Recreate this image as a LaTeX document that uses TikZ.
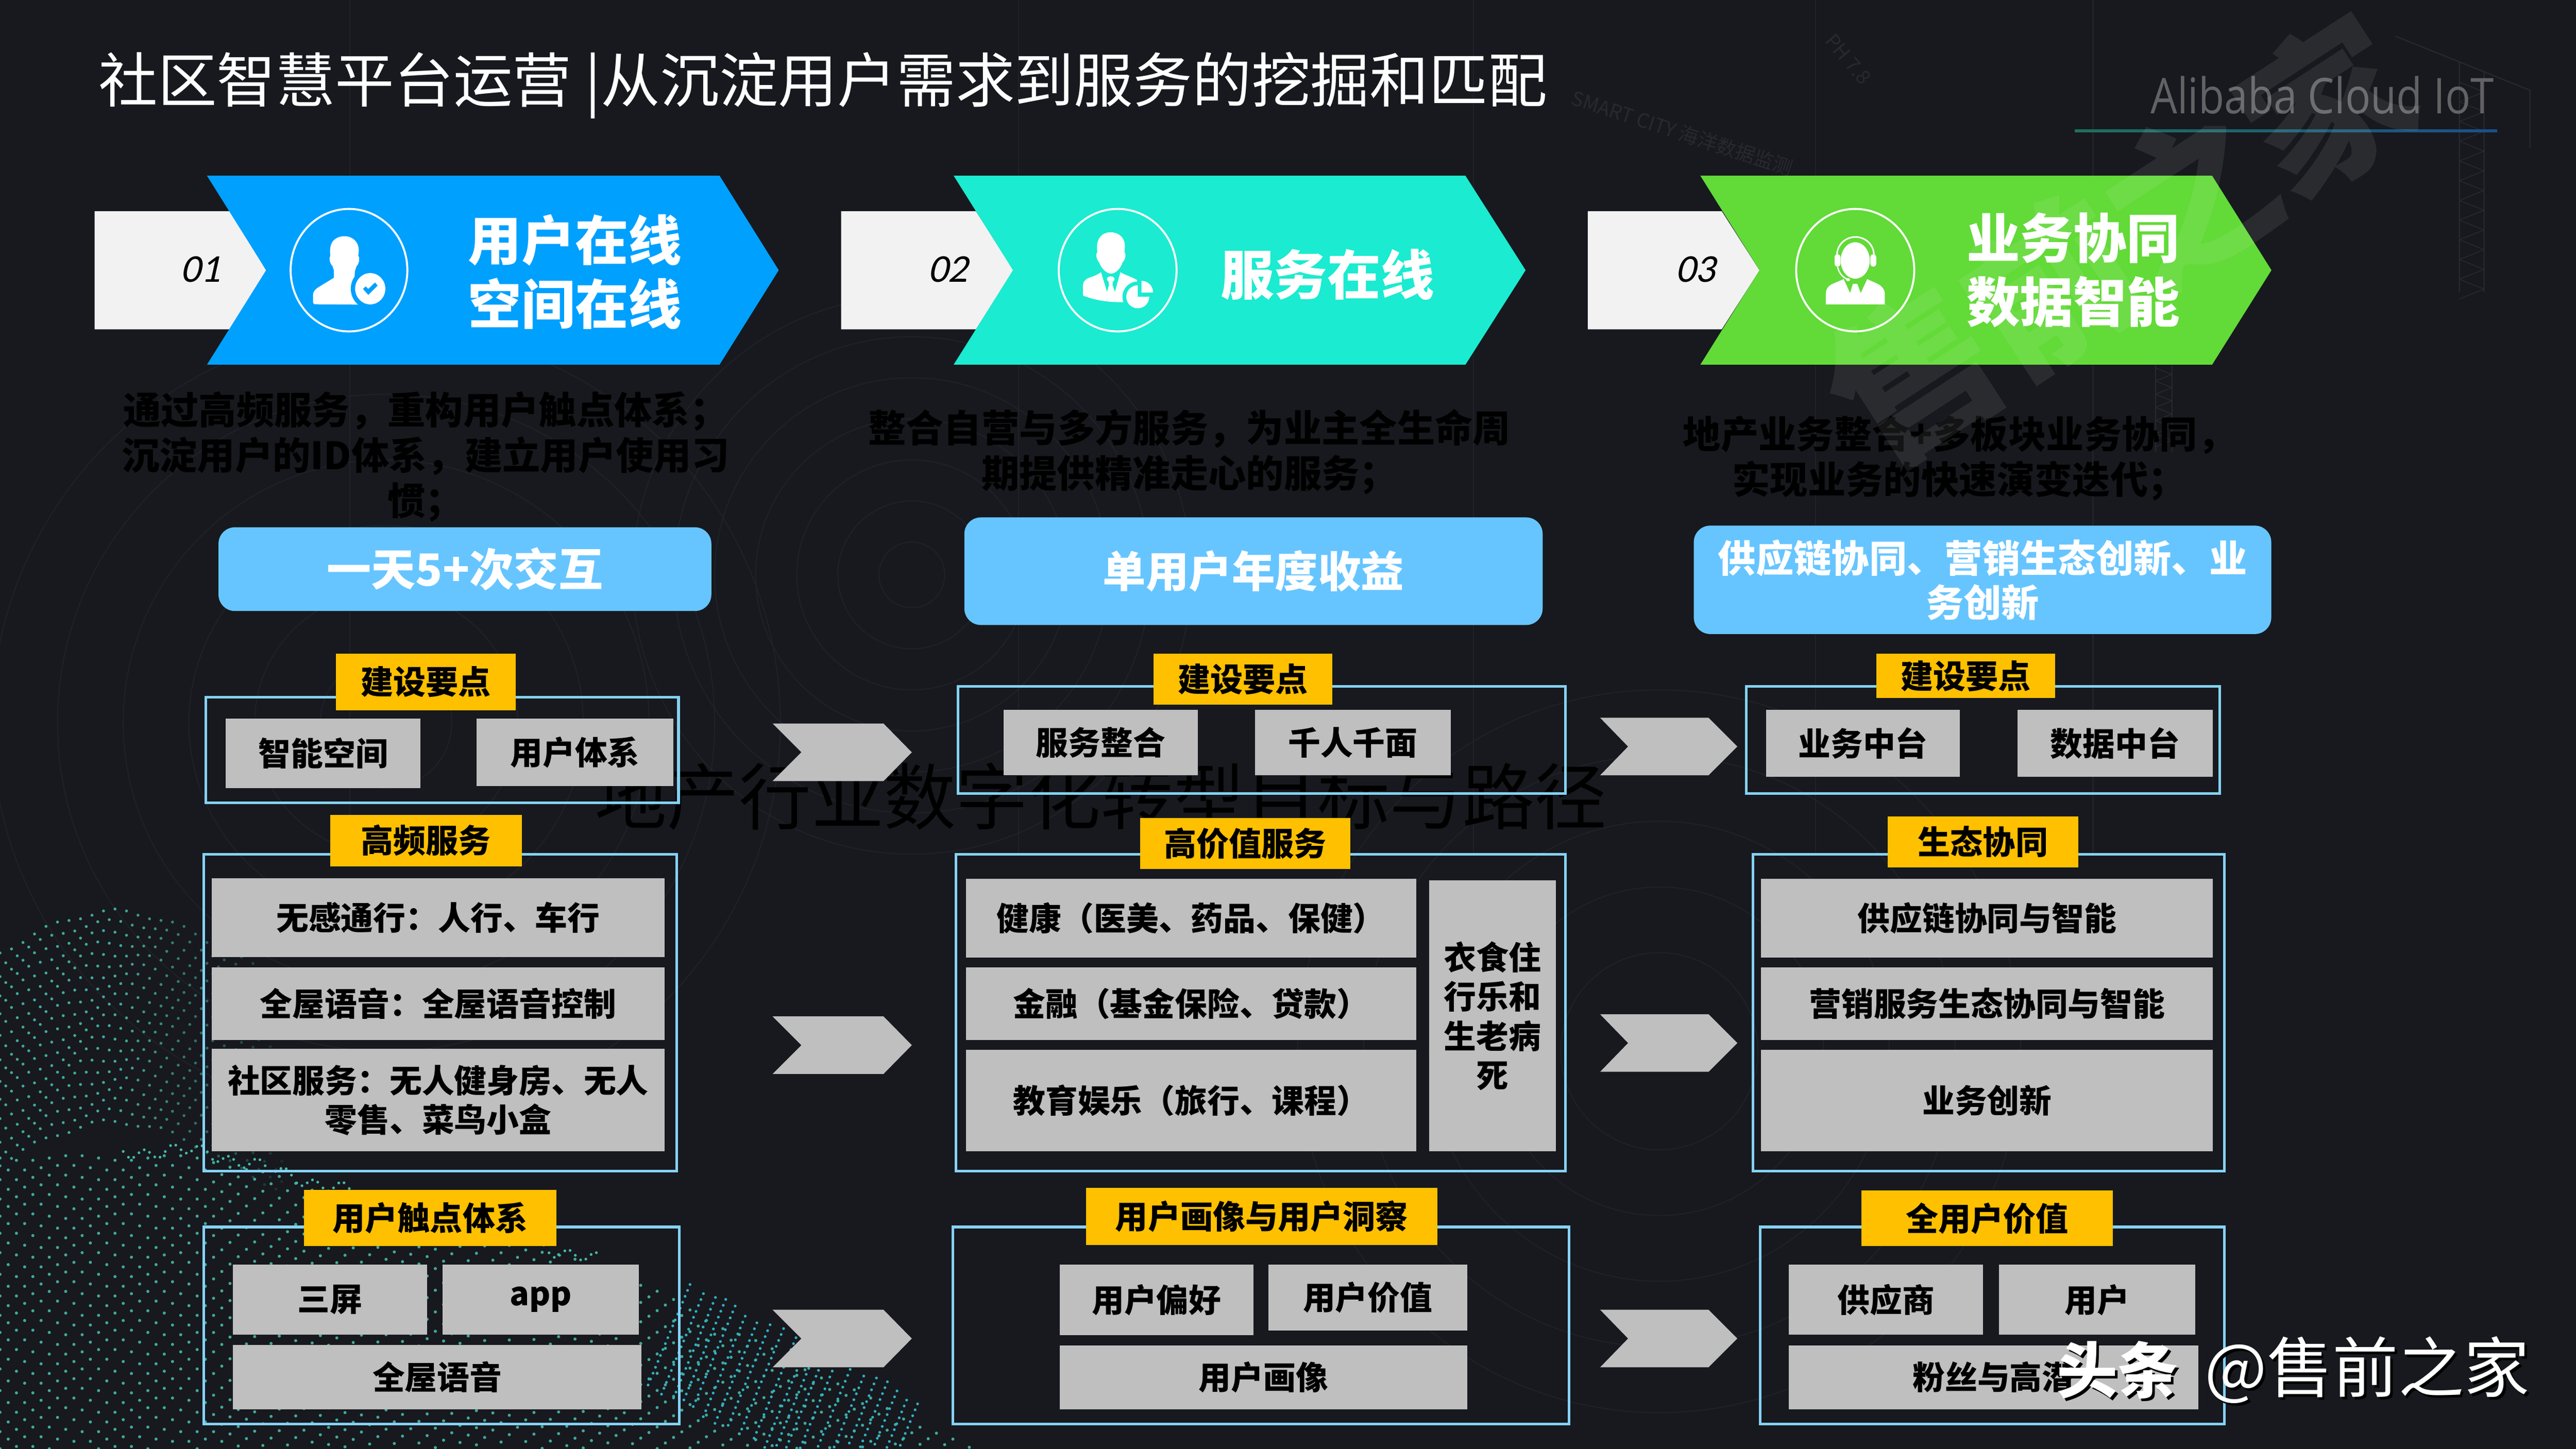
\documentclass[tikz,border=0pt]{standalone}
\usepackage{fontspec}
\setmainfont{Noto Sans CJK SC}
\newfontfamily\numfont[FakeSlant=.22]{Carlito}
\newfontfamily\latinfont{Open Sans}
\definecolor{bgc}{HTML}{17191E}
\definecolor{frm}{HTML}{85D2F8}
\definecolor{gry}{HTML}{BFBFBF}
\definecolor{tagc}{HTML}{FFC000}
\definecolor{pillc}{HTML}{66C5FF}
\definecolor{bluec}{HTML}{00A0FF}
\definecolor{tealc}{HTML}{1BEBD0}
\definecolor{greenc}{HTML}{62DA38}
\definecolor{pale}{HTML}{F2F2F2}
\definecolor{faint}{HTML}{202227}
\definecolor{faint2}{HTML}{27292E}
\definecolor{dotc}{HTML}{45B8A8}
\definecolor{dotd}{HTML}{2FB0C4}
\definecolor{logoc}{HTML}{626265}
\definecolor{lineA}{HTML}{1F6F5C}
\definecolor{lineB}{HTML}{1A4F8A}
\newcommand{\fsz}[1]{\fontsize{#1}{#1}\selectfont}
\newcommand{\fszl}[2]{\fontsize{#1}{#2}\selectfont}
\tikzset{
  base/.style={inner sep=0pt,outer sep=0pt,align=center},
  framebox/.style={base,draw=frm,line width=1.6pt},
  graybox/.style={base,fill=gry,text=black,font=\fszl{19.7}{24}\bfseries},
  tagbox/.style={base,fill=tagc,text=black,font=\fsz{19.8}\bfseries},
  pillbox/.style={base,fill=pillc,text=white,rounded corners=10pt},
  numbox/.style={fill=pale},
  arrowshape/.style={fill=gry},
  desc/.style={base,text=black,font=\fszl{23}{27.5}\bfseries},
  head/.style={base,text=white,font=\fszl{32.5}{39}\bfseries},
  num/.style={base,text=black,font=\numfont\fsz{24}},
  ring/.style={draw=white,line width=1.2pt},
  ico/.style={fill=white,draw=none},
  iconscope/.style={x=.06806pt,y=-.06806pt}
}
% style, name, x1, y1, x2, y2, text
\newcommand{\bx}[7]{%
  \pgfmathsetmacro\cxx{(#3+#5)/2}%
  \pgfmathsetmacro\cyy{(#4+#6)/2}%
  \pgfmathsetmacro\wdd{#5-#3}%
  \pgfmathsetmacro\htt{#6-#4}%
  \node[#1,minimum width=\wdd pt,minimum height=\htt pt] (#2) at (\cxx,\cyy) {#7};}
% chevron: left, notch, righttop, tip, top, bottom, colour style
\newcommand{\chev}[7]{%
  \pgfmathsetmacro\cyy{(#5+#6)/2}%
  \fill[#7] (#1,#5) -- (#3,#5) -- (#4,\cyy) -- (#3,#6) -- (#1,#6) -- (#2,\cyy) -- cycle;}
\newcommand{\numtab}[3]{%
  \fill[numbox] (#1,128.6) -- (#2,128.6) -- (#3,164.6) -- (#2,200.5) -- (#1,200.5) -- cycle;}
\begin{document}
\begin{tikzpicture}[x=1pt,y=-1pt]
\useasboundingbox (0,0) rectangle (1568,882);
\fill[bgc] (0,0) rectangle (1568,882);
% faint background decoration
\foreach \r in {20,45,...,170} \draw[faint,line width=.6pt] (555,350) circle[radius=\r];
\foreach \r in {40,80,...,240} \draw[faint,line width=.6pt] (235,440) circle[radius=\r];
\foreach \r in {60,100,...,220} \draw[faint,line width=.6pt] (1010,640) circle[radius=\r];
\foreach \xx in {213,620,897,1105,1274} \draw[faint,line width=.7pt] (\xx,0) -- (\xx,520);
% lattice towers
\draw[faint2,line width=.7pt] (1458,22) -- (1540,55) -- (1540,90) (1497,38) -- (1497,178) (1512,44) -- (1512,178);
\foreach \yy in {50,62,...,170} \draw[faint2,line width=.5pt] (1497,\yy) -- (1512,\yy+6) -- (1497,\yy+12);
\draw[faint2,line width=.7pt] (1312,222) -- (1312,275) (1322,222) -- (1322,275);
\foreach \yy in {224,232,...,264} \draw[faint2,line width=.5pt] (1312,\yy) -- (1322,\yy+4) -- (1312,\yy+8);
\node[base,text=faint2,font=\fsz{12},rotate=-18] (city) at (1024,81) {SMART CITY 海洋数据监测};
\node[base,text=faint2,font=\fsz{12},rotate=-50] (ph) at (1125,36) {PH 7.8};
% dotted wave: back hump
\foreach \c in {0,...,24}{
  \foreach \rw in {0,...,20}{
    \pgfmathsetmacro\xa{\c*7+3.5*mod(\rw,2)}
    \pgfmathsetmacro\ya{620-65*exp(-((\xa-70)/100)^2)+\rw*6.4+1.6*sin(\xa*9+\rw*40)}
    \pgfmathsetmacro\op{max(0,min(.9,1.45-\xa/130))}
    \fill[dotc,opacity=\op] (\xa,\ya) circle[radius=.9];
  }
}
% dotted wave: front body
\foreach \c in {0,...,60}{
  \foreach \rw in {0,...,30}{
    \pgfmathsetmacro\xb{\c*10+5*mod(\rw,2)}
    \pgfmathsetmacro\yb{705+.28*max(0,\xb-125)+.22*max(0,\xb-375)+\rw*5.9+1.6*sin(\xb*6+\rw*30)}
    \pgfmathtruncatemacro\vis{\yb<882?1:0}
    \ifnum\vis=1
      \fill[dotc,opacity=.9] (\xb,\yb) circle[radius=.95];
    \fi
  }
}
% dense ridge of the wave
\foreach \c in {0,...,90}{
  \pgfmathsetmacro\xr{75+\c*3.2}
  \pgfmathsetmacro\yr{701+.28*max(0,\xr-125)+3*sin(\c*67)+2*sin(\c*23)}
  \fill[dotc] (\xr,\yr) circle[radius=.85];
}
% dense stripes at the right end of the wave
\foreach \c in {0,...,20}{
  \foreach \t in {0,...,17}{
    \pgfmathsetmacro\xs{420+\c*7-\t*1.5+1.5*sin(\c*50)}
    \pgfmathsetmacro\ys{782+\c*3.6+\t*3.6+2*sin(\c*80)}
    \pgfmathtruncatemacro\vis{\ys<882?1:0}
    \ifnum\vis=1
      \fill[dotd] (\xs,\ys) circle[radius=.85];
    \fi
  }
}
% dark subtitle behind the panels
\node[base,text=black,font=\fsz{44},anchor=center] (sub) at (670,485) {地产行业数字化转型目标与路径};
% title and logo
\node[base,text=white,font=\fsz{36},anchor=west] (title) at (60,52) {社区智慧平台运营 |从沉淀用户需求到服务的挖掘和匹配};
\node[base,text=logoc,font=\latinfont\fsz{30},anchor=east,xscale=.855] (logo) at (1518,58) {Alibaba Cloud IoT};
\shade[left color=lineA,right color=lineB] (1263,78.8) rectangle (1520,80.4);
% number tabs
\numtab{57.6}{140}{162}
\numtab{512}{594}{617}
\numtab{966.5}{1048}{1071}
% banners
\chev{126}{162}{438}{474}{107}{222}{bluec}
\chev{580.5}{616.6}{892}{928.6}{107}{222}{tealc}
\chev{1035}{1071}{1346.5}{1382.6}{107}{222}{greenc}
\node[num] (n1) at (122,164) {01};
\node[num] (n2) at (577,164) {02};
\node[num] (n3) at (1032,164) {03};
% icon 1
\begin{scope}[shift={(173.5,122.5)},iconscope]
  \draw[ring] (572,617) ellipse[x radius=522,y radius=548];
  \fill[ico] (530,313) .. controls (610,313) and (660,370) .. (660,440) -- (655,490)
    .. controls (670,500) and (665,560) .. (640,580) -- (625,625) -- (622,680) -- (660,925)
    -- (270,922) .. controls (255,922) and (250,910) .. (250,895) -- (250,840)
    .. controls (250,810) and (270,790) .. (290,775) -- (437,685) -- (437,620) -- (425,580)
    .. controls (400,560) and (392,510) .. (405,490) .. controls (400,440) and (400,380) .. (440,345)
    .. controls (470,320) and (500,313) .. (530,313) -- cycle;
  \fill[bluec] (762,783) ellipse[x radius=174,y radius=182];
  \fill[ico] (762,783) ellipse[x radius=135,y radius=140];
  \fill[bluec] (697,785) -- (722,762) -- (745,785) -- (805,727) -- (828,755) -- (745,838) -- cycle;
\end{scope}
% icon 2
\begin{scope}[shift={(639,122.5)},iconscope]
  \draw[ring] (607,617) ellipse[x radius=527,y radius=548];
  \fill[ico] (298,845) -- (296,760) .. controls (296,720) and (320,695) .. (350,685)
    .. controls (400,670) and (430,655) .. (458,635) -- (632,635)
    .. controls (670,660) and (730,675) .. (780,705) -- (800,895)
    .. controls (600,915) and (440,900) .. (298,845) -- cycle;
  \fill[tealc] (458,633) -- (512,810) -- (530,745) -- (560,745) -- (582,810) -- (632,633) -- cycle;
  \fill[ico] (545,697) ellipse[x radius=34,y radius=25];
  \fill[ico] (525,715) -- (565,715) -- (560,750) -- (530,750) -- cycle;
  \fill[ico] (545,278) .. controls (620,278) and (672,330) .. (672,400) -- (668,455)
    .. controls (682,470) and (680,520) .. (652,545) .. controls (635,600) and (590,648) .. (548,648)
    .. controls (505,648) and (460,600) .. (440,545) .. controls (415,520) and (410,470) .. (425,455)
    .. controls (418,400) and (420,340) .. (470,300) .. controls (495,283) and (520,278) .. (545,278) -- cycle;
  \fill[tealc] (787,855) circle[radius=137];
  \fill[ico] (787,855) -- (787,752) arc[start angle=270,end angle=0,radius=103] -- cycle;
  \fill[ico] (820,818) -- (820,712) arc[start angle=-90,end angle=0,radius=104] -- cycle;
\end{scope}
% icon 3
\begin{scope}[shift={(1092.3,122.5)},iconscope]
  \draw[ring] (543,617) ellipse[x radius=528,y radius=548];
  \fill[ico] (543,530) ellipse[x radius=130,y radius=163];
  \draw[white,line width=.95pt] (380,480) arc[start angle=180,end angle=360,x radius=165,y radius=160];
  \fill[ico,rounded corners=1.6pt] (358,475) rectangle (411,585);
  \fill[ico,rounded corners=1.6pt] (678,475) rectangle (731,585);
  \draw[white,line width=.8pt] (385,585) .. controls (395,640) and (430,680) .. (475,700);
  \fill[ico] (479,702) ellipse[x radius=18,y radius=14];
  \fill[ico] (280,923) -- (280,830) .. controls (280,780) and (310,750) .. (350,735) -- (440,697)
    -- (497,822) -- (522,740) -- (562,740) -- (592,822) -- (650,697) -- (735,735)
    .. controls (780,755) and (808,790) .. (808,830) -- (808,923) -- cycle;
\end{scope}
% banner headings
\node[head] (h1) at (350,165.5) {用户在线\\空间在线};
\node[head] (h2) at (808,167) {服务在线};
\node[head] (h3) at (1262,164.5) {业务协同\\数据智能};
% descriptions
\node[desc] (d1) at (259,278) {通过高频服务，重构用户触点体系；\\沉淀用户的ID体系，建立用户使用习\\惯；};
\node[desc] (d2) at (724,275) {整合自营与多方服务，为业主全生命周\\期提供精准走心的服务；};
\node[desc] (d3) at (1192.5,279) {地产业务整合+多板块业务协同，\\实现业务的快速演变迭代；};
% pills
\bx{pillbox,font=\fsz{27}\bfseries}{p1}{133}{321}{433}{372}{一天5+次交互}
\bx{pillbox,font=\fsz{26.2}\bfseries}{p2}{587}{315}{939}{380.5}{单用户年度收益}
\bx{pillbox,font=\fszl{23}{27}\bfseries}{p3}{1031}{320}{1382.5}{386}{供应链协同、营销生态创新、业\\务创新}
% frames
\bx{framebox}{f11}{125.4}{424.5}{413}{488.7}{}
\bx{framebox}{f12}{124}{520}{412}{713}{}
\bx{framebox}{f13}{124}{747}{413.5}{867}{}
\bx{framebox}{f21}{583}{418}{953}{483}{}
\bx{framebox}{f22}{582}{520}{953}{713}{}
\bx{framebox}{f23}{580}{747}{955}{867}{}
\bx{framebox}{f31}{1063}{418}{1351}{483}{}
\bx{framebox}{f32}{1067}{520}{1354}{713}{}
\bx{framebox}{f33}{1071.4}{747}{1354}{867}{}
% tags
\bx{tagbox}{t11}{204.5}{398}{314}{432.3}{建设要点}
\bx{tagbox}{t12}{201}{496}{317.6}{527.5}{高频服务}
\bx{tagbox}{t13}{185}{724.3}{338.7}{758.7}{用户触点体系}
\bx{tagbox}{t21}{702}{398}{811}{429}{建设要点}
\bx{tagbox}{t22}{694}{498}{822}{529}{高价值服务}
\bx{tagbox}{t23}{661}{723}{875}{758}{用户画像与用户洞察}
\bx{tagbox}{t31}{1142}{398}{1251}{425}{建设要点}
\bx{tagbox}{t32}{1149}{497}{1265}{528}{生态协同}
\bx{tagbox}{t33}{1133}{724.7}{1286}{758.7}{全用户价值}
% column 1 boxes
\bx{graybox}{a1}{137.5}{437.4}{256}{479.9}{智能空间}
\bx{graybox}{a2}{290}{437.4}{410}{478.6}{用户体系}
\bx{graybox}{a3}{129}{534.7}{404.4}{582.6}{无感通行：人行、车行}
\bx{graybox}{a4}{129}{589}{404.4}{633}{全屋语音：全屋语音控制}
\bx{graybox}{a5}{129}{638.6}{404.4}{701}{社区服务：无人健身房、无人\\零售、菜鸟小盒}
\bx{graybox}{a6}{141.8}{770}{260}{812.5}{三屏}
\bx{graybox}{a7}{269.4}{770}{389}{812.5}{\raisebox{-4pt}{app}}
\bx{graybox}{a8}{141.8}{818.8}{390.5}{858}{全屋语音}
% column 2 boxes
\bx{graybox}{b1}{611}{432}{729}{472}{服务整合}
\bx{graybox}{b2}{764}{432}{883}{472}{千人千面}
\bx{graybox}{b3}{588}{535}{862}{583}{健康（医美、药品、保健）}
\bx{graybox}{b4}{588}{589}{862}{633}{金融（基金保险、贷款）}
\bx{graybox}{b5}{588}{639}{862}{701}{教育娱乐（旅行、课程）}
\bx{graybox}{b6}{870}{536}{947}{701}{衣食住\\行乐和\\生老病\\死}
\bx{graybox}{b7}{645}{770}{763}{813}{用户偏好}
\bx{graybox}{b8}{772}{770}{893}{810}{用户价值}
\bx{graybox}{b9}{645}{819}{893}{858}{用户画像}
% column 3 boxes
\bx{graybox}{c1}{1075}{432}{1193}{473}{业务中台}
\bx{graybox}{c2}{1228}{432}{1347}{473}{数据中台}
\bx{graybox}{c3}{1072}{535}{1347}{583}{供应链协同与智能}
\bx{graybox}{c4}{1072}{589}{1347}{633}{营销服务生态协同与智能}
\bx{graybox}{c5}{1072}{639}{1347}{701}{业务创新}
\bx{graybox}{c6}{1088.9}{770}{1207}{812.6}{供应商}
\bx{graybox}{c7}{1216.6}{770}{1336.3}{812.6}{用户}
\bx{graybox}{c8}{1088.9}{819}{1338}{858}{粉丝与高潜}
% chevron arrows
\chev{470.3}{487.8}{537.8}{555}{440.5}{475.5}{arrowshape}
\chev{470.3}{487.8}{537.8}{555}{618.8}{653.8}{arrowshape}
\chev{470.3}{487.8}{537.8}{555}{797.4}{832.4}{arrowshape}
\chev{974}{991}{1040}{1057.5}{437}{472}{arrowshape}
\chev{974}{991}{1040}{1057.5}{617.5}{652.5}{arrowshape}
\chev{974}{991}{1040}{1057.5}{797.4}{832.4}{arrowshape}
% large diagonal watermark
\node[base,text=white,opacity=.08,font=\fsz{100}\bfseries,rotate=33] (bigmark) at (1290,146) {售前之家};
% corner watermark
\node[base,text=black,font=\fsz{37}\bfseries,anchor=center] (tts) at (1290.5,835.5) {头条};
\node[base,text=white,font=\fsz{37}\bfseries,anchor=center] (tt) at (1289,834) {头条};
\node[base,text=black,font=\fsz{40},anchor=west] (ats) at (1343.5,835.5) {@售前之家};
\node[base,text=white,font=\fsz{40},anchor=west] (at) at (1342,834) {@售前之家};
\end{tikzpicture}
\end{document}
